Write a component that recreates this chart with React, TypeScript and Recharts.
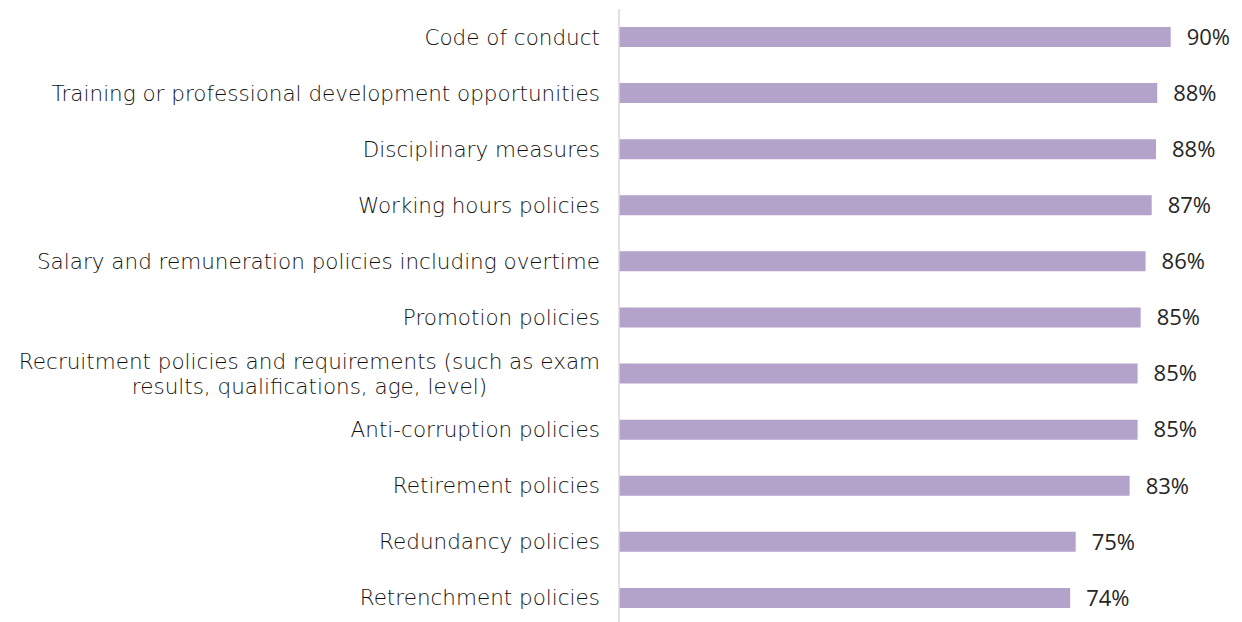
import { useLayoutEffect, useRef, useState } from "react";
import { BarChart, Bar, XAxis, YAxis, LabelList } from "recharts";

const categories = [
  "Code of conduct",
  "Training or professional development opportunities",
  "Disciplinary measures",
  "Working hours policies",
  "Salary and remuneration policies including overtime",
  "Promotion policies",
  "Recruitment policies and requirements (such as exam results, qualifications, age, level)",
  "Anti-corruption policies",
  "Retirement policies",
  "Redundancy policies",
  "Retrenchment policies",
];

const shares = [90.0, 87.8, 87.6, 86.9, 85.9, 85.1, 84.6, 84.6, 83.3, 74.5, 73.6];

const data = categories.map((name, i) => ({ name, value: shares[i] }));

const CAT_FONT = "'DejaVu Sans', sans-serif";
const VAL_FONT = "'Open Sans', sans-serif";
const TEXT = "#262626";
const CAT_TEXT = "#111111";
const CAT_SIZE = 21.5;

// split long category names into lines of at most maxChars
function wrap(label: string, maxChars: number) {
  const words = label.split(" ");
  const lines: string[] = [];
  let cur = "";
  for (const w of words) {
    const next = cur ? cur + " " + w : w;
    if (next.length > maxChars && cur) {
      lines.push(cur);
      cur = w;
    } else {
      cur = next;
    }
  }
  if (cur) lines.push(cur);
  return lines;
}

function CategoryTick(props: any) {
  const { x, y, payload } = props;
  const lines = wrap(payload.value, 52);
  const ref = useRef<SVGTextElement>(null);
  const [w, setW] = useState(0);
  useLayoutEffect(() => {
    if (ref.current && lines.length > 1) setW(ref.current.getBBox().width);
  }, [payload.value]);
  const right = x - 19;
  const common = { fill: CAT_TEXT, fontSize: CAT_SIZE, fontFamily: CAT_FONT, fontWeight: 300 };
  if (lines.length === 1) {
    return (
      <text x={right} y={y} dy="0.35em" textAnchor="end" {...common}>
        {payload.value}
      </text>
    );
  }
  const cx = right - w / 2;
  const lh = 25;
  const top = y - ((lines.length - 1) * lh) / 2;
  return (
    <text ref={ref} x={cx} y={top} dy="0.35em" textAnchor="middle" {...common}>
      {lines.map((l, i) => (
        <tspan key={i} x={cx} y={top + i * lh} dy="0.35em">
          {l}
        </tspan>
      ))}
    </text>
  );
}

export default function App() {
  return (
    <BarChart
      width={1234}
      height={620}
      data={data}
      layout="vertical"
      margin={{ top: 1, right: 10, bottom: 2, left: 0 }}
    >
      <XAxis type="number" domain={[0, 100]} hide />
      <YAxis
        type="category"
        dataKey="name"
        width={611}
        tickSize={0}
        tickMargin={0}
        tickLine={false}
        axisLine={{ stroke: "#d9d9d9", strokeWidth: 1.5 }}
        tick={<CategoryTick />}
        interval={0}
      />
      <Bar dataKey="value" fill="#b3a2c9" barSize={20} isAnimationActive={false}>
        <LabelList
          dataKey="value"
          position="right"
          offset={16}
          formatter={(v: any) => `${Math.round(Number(v))}%`}
          fill={TEXT}
          fontSize={22}
          fontFamily={VAL_FONT}
        />
      </Bar>
    </BarChart>
  );
}
